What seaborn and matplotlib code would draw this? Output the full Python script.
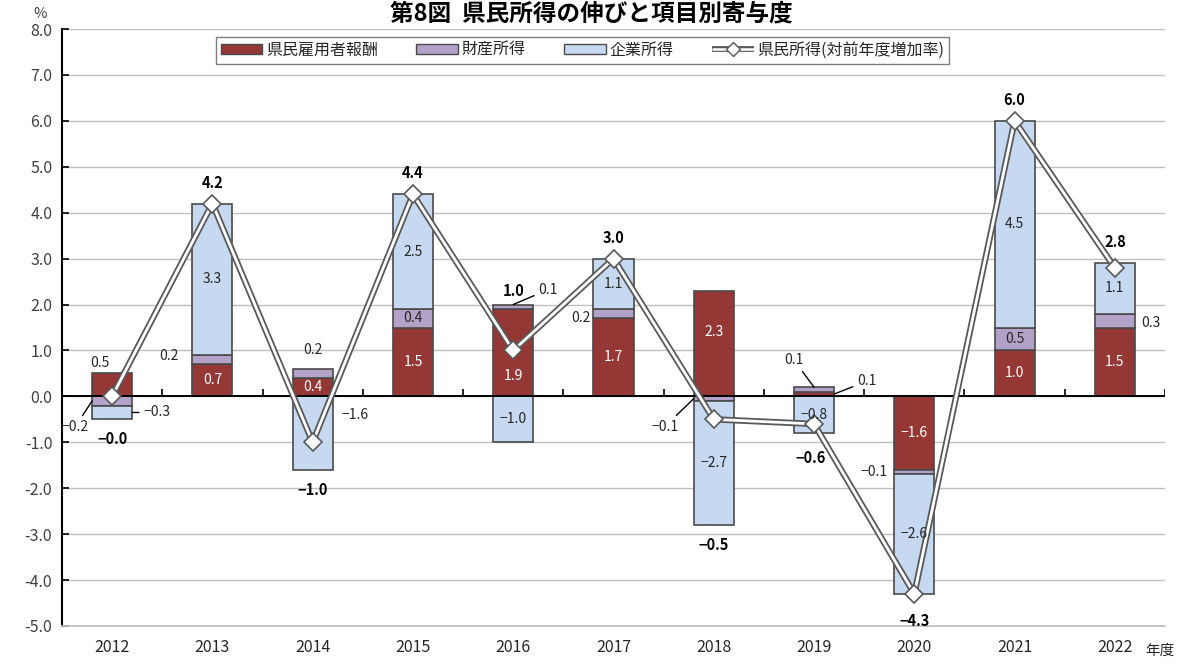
import numpy as np
import pandas as pd
import matplotlib
matplotlib.use("Agg")
import matplotlib.pyplot as plt
import seaborn as sns
from matplotlib.patches import Patch
from matplotlib.lines import Line2D
from matplotlib.legend_handler import HandlerBase

# ---------------- data ----------------
years = ["2012", "2013", "2014", "2015", "2016", "2017", "2018", "2019", "2020", "2021", "2022"]
employee_comp = [0.5, 0.7, 0.4, 1.5, 1.9, 1.7, 2.3, 0.1, -1.6, 1.0, 1.5]
property_income = [-0.2, 0.2, 0.2, 0.4, 0.1, 0.2, -0.1, 0.1, -0.1, 0.5, 0.3]
corporate_income = [-0.3, 3.3, -1.6, 2.5, -1.0, 1.1, -2.7, -0.8, -2.6, 4.5, 1.1]
total_growth = [-0.0, 4.2, -1.0, 4.4, 1.0, 3.0, -0.5, -0.6, -4.3, 6.0, 2.8]
series_names = ["県民雇用者報酬", "財産所得", "企業所得", "県民所得(対前年度増加率)"]
y_ticks = [-5, -4, -3, -2, -1, 0, 1, 2, 3, 4, 5, 6, 7, 8]

# ---------------- style ----------------
sns.set_theme(style="white")
plt.rcParams["font.family"] = ["Noto Sans CJK JP", "DejaVu Sans"]
plt.rcParams["axes.unicode_minus"] = False

RED = "#953735"
PURPLE = "#B3A2C7"
BLUE = "#C6D9F1"
EDGE = "#4a4a4a"
LINE_DARK = "#595959"
TXT = "#262626"

fig = plt.figure(figsize=(11.82, 6.64), dpi=100)
ax = fig.add_axes([62 / 1182, 1 - 626 / 664, (1165 - 62) / 1182, (626 - 29) / 664])

n = len(years)
x = np.arange(n)
width = 0.4

series = [employee_comp, property_income, corporate_income]
colors = [RED, PURPLE, BLUE]
pos_base = np.zeros(n)
neg_base = np.zeros(n)
segments = []
for vals, col in zip(series, colors):
    v = np.array(vals, dtype=float)
    bottom = np.where(v >= 0, pos_base, neg_base)
    ax.bar(x, v, width=width, bottom=bottom, color=col, edgecolor=EDGE,
           linewidth=1.2, zorder=2)
    segments.append((bottom.copy(), v.copy()))
    pos_base = pos_base + np.where(v >= 0, v, 0)
    neg_base = neg_base + np.where(v < 0, v, 0)

# total line (double line) via seaborn
df = pd.DataFrame({"x": x, "total": total_growth})
sns.lineplot(data=df, x="x", y="total", ax=ax, color=LINE_DARK, linewidth=4.6,
             zorder=3, legend=False)
sns.lineplot(data=df, x="x", y="total", ax=ax, color="white", linewidth=2.0,
             zorder=3.1, legend=False)
ax.plot(x, total_growth, linestyle="none", marker="D", markersize=9,
        markerfacecolor="white", markeredgecolor=LINE_DARK, markeredgewidth=1.2,
        zorder=4)

# axes formatting
ax.set_xlim(-0.5, n - 0.5)
ax.set_ylim(-5, 8)
ax.set_yticks(y_ticks)
ax.set_yticklabels([f"{t:.1f}" for t in y_ticks], fontsize=11.5, color="#404040")
ax.set_xticks(x)
ax.set_xticklabels(years, fontsize=11.5, color=TXT)
ax.tick_params(axis="x", length=0, pad=9)
ax.tick_params(axis="y", direction="in", length=5, width=1.2, color="black", pad=7, left=True)
for t in y_ticks:
    ax.axhline(t, color="#BFBFBF", linewidth=1.0, zorder=0)
ax.axhline(0, color="black", linewidth=1.4, zorder=2.5)
ax.vlines(np.arange(0.5, n, 1.0), 0, 0.16, color="black", linewidth=1.2, zorder=2.5)
for s in ["top", "right"]:
    ax.spines[s].set_visible(False)
ax.spines["bottom"].set_color("#BFBFBF")
ax.spines["left"].set_color("black")
ax.spines["left"].set_linewidth(1.5)
ax.set_xlabel("")
ax.set_ylabel("")

# ---------------- labels ----------------
def is_neg(v):
    return v < 0 or (v == 0 and str(v).startswith("-"))

def fmt(v):
    s = f"{abs(v):.1f}"
    return ("−" + s) if is_neg(v) else s

LBL = 10
# (series, year) -> (dx px, dy px, leader?, anchor) ; anchor: c center, l left, r right, t top
outside = {
    (0, 0): (-12, 22, False, "c"),
    (1, 0): (-17, -26, True, "l"),
    (2, 0): (25, 0, True, "r"),
    (1, 1): (-43, 4, False, "c"),
    (1, 2): (0, 23, False, "c"),
    (2, 2): (42, 18, False, "c"),
    (1, 4): (35, 15, True, "t"),
    (1, 5): (-33, -4, False, "c"),
    (1, 6): (-29, -28, True, "l"),
    (0, 7): (33, 13, True, "r"),
    (1, 7): (-20, 27, True, "t"),
    (1, 8): (-40, 0, False, "c"),
    (1, 10): (36, -2, False, "c"),
}
inside_shift = {(0, 4): -23, (0, 6): 12}

for si, (bottom, vals) in enumerate(segments):
    for i in range(n):
        v = vals[i]
        center = bottom[i] + v / 2
        key = (si, i)
        label = fmt(v)
        if key in outside:
            dx, dy, leader, anc = outside[key]
            if anc == "l":
                xy = (x[i] - width / 2, center)
            elif anc == "r":
                xy = (x[i] + width / 2, center)
            elif anc == "t":
                xy = (x[i], bottom[i] + v)
            else:
                xy = (x[i], center)
            kw = dict(xy=xy, xytext=(dx, dy), textcoords="offset pixels",
                      ha="center", va="center", fontsize=LBL, color=TXT, zorder=6)
            if leader:
                kw["arrowprops"] = dict(arrowstyle="-", color="black", lw=1.0,
                                        shrinkA=1, shrinkB=0)
            ax.annotate(label, **kw)
        else:
            col = "white" if si == 0 else TXT
            dy = inside_shift.get(key, 0)
            ax.annotate(label, xy=(x[i], center), xytext=(0, dy), textcoords="offset pixels",
                        ha="center", va="center", fontsize=LBL, color=col, zorder=6)

# total labels
total_dy = {4: 14, 7: -25, 8: -27}
for i, t in enumerate(total_growth):
    neg = is_neg(t)
    anchor = min(neg_base[i], t) if neg else max(pos_base[i], t)
    dy = total_dy.get(i, -20 if neg else 21)
    dx = -3 if i == 7 else 0
    ax.annotate(fmt(t), xy=(x[i], anchor), xytext=(dx, dy), textcoords="offset pixels",
                ha="center", va="center", fontsize=10.5, fontweight="bold", color="black",
                zorder=6)


# legend
class DoubleLineHandler(HandlerBase):
    def create_artists(self, legend, orig_handle, xdescent, ydescent, width, height,
                       fontsize, trans):
        y = height / 2 - ydescent
        xs = [-xdescent, width - xdescent]
        outer = Line2D(xs, [y, y], color=LINE_DARK, lw=4.2, solid_capstyle="butt")
        inner = Line2D(xs, [y, y], color="white", lw=1.8, solid_capstyle="butt")
        mark = Line2D([width / 2 - xdescent], [y], lw=0, marker="D", markersize=7,
                      markerfacecolor="white", markeredgecolor=LINE_DARK,
                      markeredgewidth=1)
        for a in (outer, inner, mark):
            a.set_transform(trans)
        return [outer, inner, mark]


line_handle = Line2D([], [], color=LINE_DARK)
handles = [
    Patch(facecolor=RED, edgecolor=EDGE, linewidth=1),
    Patch(facecolor=PURPLE, edgecolor=EDGE, linewidth=1),
    Patch(facecolor=BLUE, edgecolor=EDGE, linewidth=1),
    line_handle,
]
leg = ax.legend(handles, series_names, handler_map={line_handle: DoubleLineHandler()},
                ncol=4, loc="upper center", bbox_to_anchor=(0.472, 0.9866),
                borderaxespad=0, frameon=True, fancybox=False, edgecolor="#7f7f7f",
                framealpha=1, fontsize=11.5, handlelength=2.6, handleheight=0.55,
                columnspacing=2.4, handletextpad=0.25, borderpad=0.3)
leg.get_frame().set_linewidth(1.0)
for txt in leg.get_texts():
    txt.set_color(TXT)

# title and axis annotations
fig.text(0.5, 1 - 13 / 664, "第8図  県民所得の伸びと項目別寄与度", ha="center", va="center",
         fontsize=17, fontweight="bold", color="black")
fig.text(40 / 1182, 1 - 14 / 664, "%", ha="center", va="center", fontsize=10.5, color="#404040")
fig.text(1160 / 1182, 1 - 651 / 664, "年度", ha="center", va="center", fontsize=10.5, color=TXT)

fig.savefig("out.png", dpi=100)
